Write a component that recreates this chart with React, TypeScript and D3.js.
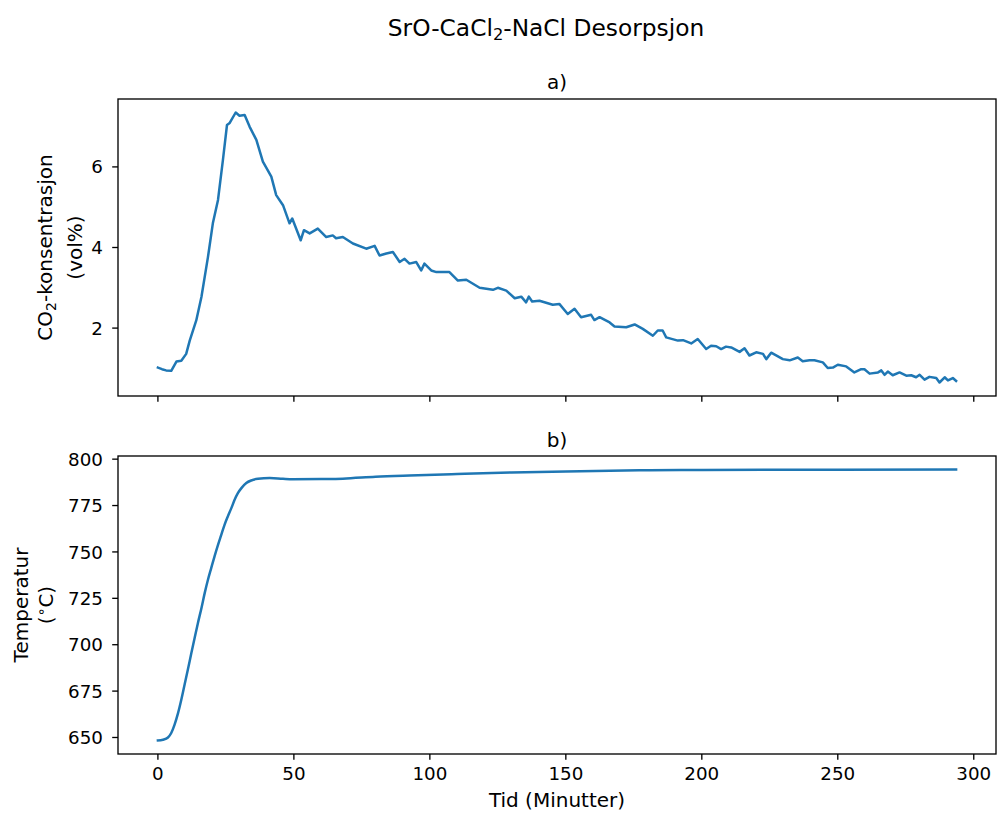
import React from "react";
import * as d3 from "d3";

const co2Time = [0, 1.5, 3, 4.9, 6.8, 8.6, 10.4, 11.7, 14.1, 16, 18.4, 20.2, 22.1, 23.9, 25.4, 26.4, 28.6, 30, 31.9, 33.7, 36.2, 38.6, 41.7, 43.5, 46, 48.4, 49.4, 52.5, 53.7, 55.8, 58.8, 61.9, 64.3, 65.5, 68, 71.7, 76.6, 79.7, 81.5, 84, 86.4, 88.9, 90.7, 92.5, 95, 96.8, 98, 100.5, 102.4, 107.2, 110.3, 113.4, 118.3, 123.2, 125, 128.1, 131.2, 133.6, 135.4, 136.4, 137.6, 140.3, 145.2, 147.6, 150.7, 153.2, 155.6, 159.3, 160.5, 162.4, 166.1, 167.9, 172.2, 175.3, 178.3, 182, 183.8, 185.6, 186.9, 191.2, 193.1, 196.1, 198.5, 201.6, 203.4, 205.3, 207.1, 208.9, 210.8, 213.9, 215.7, 217.5, 220, 222.5, 223.7, 225.5, 229.8, 232.3, 235.3, 237.1, 239.6, 241.4, 244.5, 246.3, 248.2, 250, 253.1, 256.1, 258.6, 259.8, 261.7, 264.8, 266, 267.2, 268.4, 270.2, 272.7, 275.2, 277, 278.8, 280.1, 281.9, 283.7, 286.2, 287.4, 289.3, 290.5, 292.3, 293.5];
const co2Values = [1.02, 0.98, 0.95, 0.94, 1.17, 1.19, 1.36, 1.69, 2.19, 2.77, 3.76, 4.6, 5.18, 6.17, 7.04, 7.09, 7.35, 7.27, 7.29, 7.0, 6.67, 6.13, 5.76, 5.3, 5.05, 4.6, 4.72, 4.18, 4.43, 4.35, 4.47, 4.26, 4.3, 4.23, 4.26, 4.1, 3.97, 4.04, 3.8, 3.85, 3.89, 3.64, 3.72, 3.6, 3.64, 3.43, 3.6, 3.43, 3.39, 3.39, 3.18, 3.2, 3.0, 2.95, 3.0, 2.93, 2.74, 2.78, 2.64, 2.78, 2.66, 2.68, 2.58, 2.6, 2.35, 2.48, 2.27, 2.33, 2.2, 2.27, 2.14, 2.04, 2.02, 2.09, 1.98, 1.81, 1.94, 1.94, 1.77, 1.69, 1.7, 1.62, 1.73, 1.48, 1.56, 1.55, 1.48, 1.54, 1.52, 1.41, 1.5, 1.32, 1.4, 1.36, 1.23, 1.39, 1.23, 1.2, 1.27, 1.18, 1.2, 1.2, 1.15, 1.01, 1.02, 1.09, 1.05, 0.9, 0.98, 0.98, 0.87, 0.9, 0.95, 0.84, 0.92, 0.83, 0.9, 0.82, 0.83, 0.78, 0.84, 0.72, 0.79, 0.76, 0.65, 0.78, 0.7, 0.76, 0.69];

const tempTime = [0, 1.85, 3.7, 4.9, 6.1, 7.4, 8.6, 9.8, 11.0, 12.3, 13.5, 14.7, 16.0, 17.2, 18.4, 19.6, 20.8, 22.1, 23.3, 24.5, 25.7, 27.0, 28.2, 29.4, 30.7, 32.5, 34.3, 36.8, 41.1, 46.0, 49.6, 60, 68, 80, 92.5, 110, 130, 150, 177, 200, 250, 293.5];
const tempValues = [648.4, 648.8, 650.0, 652.4, 656.8, 663.1, 670.3, 678.4, 686.5, 695.5, 703.6, 711.6, 719.7, 727.8, 735.0, 741.3, 747.5, 753.8, 759.2, 764.6, 769.1, 773.6, 778.1, 781.7, 784.4, 787.1, 788.5, 789.4, 789.8, 789.4, 789.2, 789.3, 789.5, 790.5, 791.2, 792.0, 792.8, 793.4, 794.0, 794.2, 794.3, 794.4];

const xTicks = [0, 50, 100, 150, 200, 250, 300];
const co2Ticks = [2, 4, 6];
const tempTicks = [650, 675, 700, 725, 750, 775, 800];

const FONT = "DejaVu Sans";
const BLUE = "#1f77b4";
const L = 118, R = 996;
const TOP1 = 99, BOT1 = 396;
const TOP2 = 456, BOT2 = 754;
const TICK = 5.8;
const FS = 18.3;
const LFS = 20;

function pad(min: number, max: number) {
  const m = (max - min) * 0.05;
  return [min - m, max + m];
}

export default function App() {
  const x = d3.scaleLinear().domain(pad(0, 293.5)).range([L, R]);
  const y1 = d3.scaleLinear().domain(pad(0.65, 7.35)).range([BOT1, TOP1]);
  const y2 = d3.scaleLinear().domain(pad(648.4, 794.4)).range([BOT2, TOP2]);

  const co2Line = d3.line<number>()
    .x((_, i) => x(co2Time[i]))
    .y((d) => y1(d));
  const tempLine = d3.line<number>()
    .x((_, i) => x(tempTime[i]))
    .y((d) => y2(d))
    .curve(d3.curveMonotoneX);

  const cx = (L + R) / 2;

  const xAxis = (bottom: number, labels: boolean) => (
    <g>
      {xTicks.map((t) => (
        <g key={t}>
          <line x1={x(t)} x2={x(t)} y1={bottom} y2={bottom + TICK} stroke="#000" strokeWidth={1.33} />
          {labels && (
            <text x={x(t)} y={bottom + 26} textAnchor="middle" fontSize={FS} fontFamily={FONT} fill="#000">{t}</text>
          )}
        </g>
      ))}
    </g>
  );

  const yAxis = (ticks: number[], scale: d3.ScaleLinear<number, number>) => (
    <g>
      {ticks.map((t) => (
        <g key={t}>
          <line x1={L - TICK} x2={L} y1={scale(t)} y2={scale(t)} stroke="#000" strokeWidth={1.33} />
          <text x={103} y={scale(t)} dy="0.36em" textAnchor="end" fontSize={FS} fontFamily={FONT} fill="#000">{t}</text>
        </g>
      ))}
    </g>
  );

  return (
    <svg width={997} height={814} style={{ position: "absolute", left: 0, top: 0, background: "#fff" }}>
      <rect x={0} y={0} width={997} height={814} fill="#fff" />
      <text x={546} y={36} textAnchor="middle" fontSize={23.3} fontFamily={FONT} fill="#000">
        SrO-CaCl<tspan fontSize={16.3} dy={4}>2</tspan><tspan dy={-4}>-NaCl Desorpsjon</tspan>
      </text>

      {/* top panel */}
      <text x={cx} y={89} textAnchor="middle" fontSize={LFS} fontFamily={FONT} fill="#000">a)</text>
      <defs>
        <clipPath id="c1"><rect x={L} y={TOP1} width={R - L} height={BOT1 - TOP1} /></clipPath>
        <clipPath id="c2"><rect x={L} y={TOP2} width={R - L} height={BOT2 - TOP2} /></clipPath>
      </defs>
      <path d={co2Line(co2Values) || ""} fill="none" stroke={BLUE} strokeWidth={2.5} strokeLinejoin="round" strokeLinecap="square" clipPath="url(#c1)" />
      <rect x={L} y={TOP1} width={R - L} height={BOT1 - TOP1} fill="none" stroke="#000" strokeWidth={1.33} />
      {xAxis(BOT1, false)}
      {yAxis(co2Ticks, y1)}
      <text transform={`translate(45,${(TOP1 + BOT1) / 2}) rotate(-90)`} dy="0.36em" textAnchor="middle" fontSize={LFS} fontFamily={FONT} fill="#000">
        CO<tspan fontSize={14} dy={3.5}>2</tspan><tspan dy={-3.5}>-konsentrasjon</tspan>
      </text>
      <text transform={`translate(75,${(TOP1 + BOT1) / 2}) rotate(-90)`} dy="0.36em" textAnchor="middle" fontSize={LFS} fontFamily={FONT} fill="#000">(vol%)</text>

      {/* bottom panel */}
      <text x={cx} y={447} textAnchor="middle" fontSize={LFS} fontFamily={FONT} fill="#000">b)</text>
      <path d={tempLine(tempValues) || ""} fill="none" stroke={BLUE} strokeWidth={2.5} strokeLinejoin="round" strokeLinecap="square" clipPath="url(#c2)" />
      <rect x={L} y={TOP2} width={R - L} height={BOT2 - TOP2} fill="none" stroke="#000" strokeWidth={1.33} />
      {xAxis(BOT2, true)}
      {yAxis(tempTicks, y2)}
      <text transform={`translate(21,${(TOP2 + BOT2) / 2}) rotate(-90)`} dy="0.36em" textAnchor="middle" fontSize={LFS} fontFamily={FONT} fill="#000">Temperatur</text>
      <text transform={`translate(46,${(TOP2 + BOT2) / 2}) rotate(-90)`} dy="0.36em" textAnchor="middle" fontSize={LFS} fontFamily={FONT} fill="#000">
        (<tspan fontSize={14} dy={-7}>∘</tspan><tspan dy={7}>C)</tspan>
      </text>
      <text x={cx} y={807} textAnchor="middle" fontSize={LFS} fontFamily={FONT} fill="#000">Tid (Minutter)</text>
    </svg>
  );
}
